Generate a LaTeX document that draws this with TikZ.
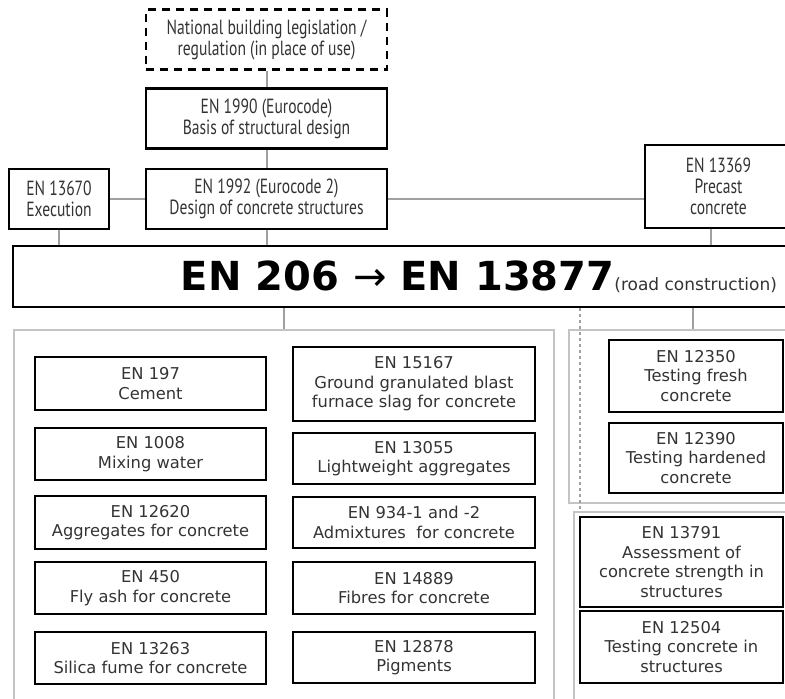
\documentclass[tikz,border=0pt]{standalone}
\usepackage{fontspec}
\setmainfont{DejaVu Sans}
\newfontfamily\topfont[FakeStretch=0.76]{PT Sans}
\usetikzlibrary{positioning,calc}
\definecolor{linkgray}{HTML}{A0A0A0}
\definecolor{panelgray}{HTML}{C4C4C4}
\definecolor{txtgray}{HTML}{333333}

\begin{document}
\begin{tikzpicture}[x=1pt,y=-1pt,
 topbox/.style={draw,line width=2.4pt,minimum width=241pt,minimum height=60pt,align=center,text=txtgray,font=\topfont\fontsize{20.5}{21}\selectfont},
 stdbox/.style={draw,line width=2.2pt,align=center,text=txtgray,font=\fontsize{16.3}{19.5}\selectfont},
 panel/.style={draw=panelgray,line width=1.8pt,anchor=north west},
 link/.style={linkgray,line width=2pt}]
\useasboundingbox (0,0) rectangle (785,699);
\clip (0,0) rectangle (785,699);
\node[topbox,dash pattern=on 8pt off 6pt] (natl) at (266.5,39.5) {National building legislation /\\regulation (in place of use)};
\node[topbox] (en1990) at (266.5,118.5) {EN 1990 (Eurocode)\\Basis of structural design};
\node[topbox] (en1992) at (266.5,199) {EN 1992 (Eurocode 2)\\Design of concrete structures};
\node[topbox,minimum width=100pt] (en13670) at (59,199) {EN 13670\\Execution};
\node[topbox,minimum width=147pt,minimum height=83pt] (en13369) at (718.5,186.5) {EN 13369\\Precast\\concrete};
\node[draw,line width=2.4pt,minimum width=776pt,minimum height=61pt] (en206) at (401,276.5)
 {\makebox[752pt][r]{\fontsize{40}{42}\selectfont\bfseries EN 206 {\mdseries→} EN 13877\fontsize{17}{18}\selectfont\mdseries\color{txtgray}(road construction)}};
\node[panel,minimum width=540pt,minimum height=380pt] (matpanel) at (13,329) {};
\node[panel,minimum width=230pt,minimum height=173pt] (testpanel) at (568,329) {};
\node[panel,minimum width=225pt,minimum height=200pt] (structpanel) at (573,511) {};
\node[stdbox,minimum width=231pt,minimum height=53pt] (en197) at (150.5,383.5) {EN 197\\Cement};
\node[stdbox,minimum width=231pt,minimum height=52pt] (en1008) at (150.5,454) {EN 1008\\Mixing water};
\node[stdbox,minimum width=231pt,minimum height=53pt] (en12620) at (150.5,522.5) {EN 12620\\Aggregates for concrete};
\node[stdbox,minimum width=231pt,minimum height=52pt] (en450) at (150.5,588) {EN 450\\Fly ash for concrete};
\node[stdbox,minimum width=231pt,minimum height=52pt] (en13263) at (150.5,658) {EN 13263\\Silica fume for concrete};
\node[stdbox,minimum width=242pt,minimum height=74pt] (en15167) at (414,384) {EN 15167\\Ground granulated blast\\furnace slag for concrete};
\node[stdbox,minimum width=242pt,minimum height=51pt] (en13055) at (414,458.5) {EN 13055\\Lightweight aggregates};
\node[stdbox,minimum width=242pt,minimum height=51pt] (en934) at (414,522.5) {EN 934-1 and -2\\Admixtures\ \ for concrete};
\node[stdbox,minimum width=242pt,minimum height=52pt] (en14889) at (414,588) {EN 14889\\Fibres for concrete};
\node[stdbox,minimum width=242pt,minimum height=51pt] (en12878) at (414,657.5) {EN 12878\\Pigments};
\node[stdbox,minimum width=174pt,minimum height=72pt] (en12350) at (696,376) {EN 12350\\Testing fresh\\concrete};
\node[stdbox,minimum width=174pt,minimum height=70pt] (en12390) at (696,458) {EN 12390\\Testing hardened\\concrete};
\node[stdbox,minimum width=203pt,minimum height=90pt,inner ysep=2pt] (en13791) at (681.5,562) {EN 13791\\Assessment of\\concrete strength in\\structures};
\node[stdbox,minimum width=203pt,minimum height=72pt] (en12504) at (681.5,647) {EN 12504\\Testing concrete in\\structures};
\draw[link] (natl) -- (en1990);
\draw[link] (en1990) -- (en1992);
\draw[link] (en13670) -- (en1992);
\draw[link] (en1992.east) -- (en1992.east -| en13369.west);
\draw[link] (en13670.south) -- (en13670.south |- en206.north);
\draw[link] (en1992.south) -- (en1992.south |- en206.north);
\draw[link] ([xshift=-8pt]en13369.south) -- ([xshift=-8pt]en13369.south |- en206.north);
\draw[link] (matpanel.north |- en206.south) -- (matpanel.north);
\draw[link] ([xshift=9pt]testpanel.north |- en206.south) -- ([xshift=9pt]testpanel.north);
\draw[link,dashed] ([xshift=7pt]structpanel.north west |- en206.south) -- ([xshift=7pt]structpanel.north west);
\end{tikzpicture}
\end{document}
